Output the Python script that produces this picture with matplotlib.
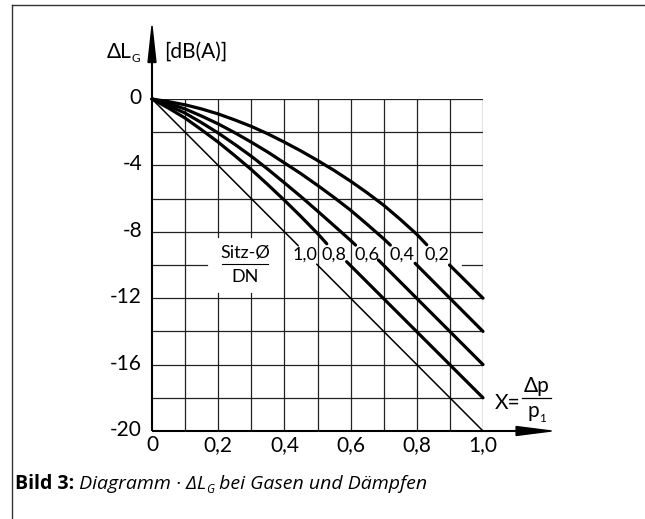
import matplotlib.pyplot as plt
from matplotlib.patches import Polygon
from matplotlib.lines import Line2D

W, H = 645, 519

# curve data: ratio Sitz-Ø/DN -> (X, dL) points
# each curve is split by the label row: upper part / lower part
ratios = ["1,0", "0,8", "0,6", "0,4", "0,2"]

x_10_up = [0.0, 0.442]
y_10_up = [0.0, -8.84]
x_10_lo = [0.4975, 1.0]
y_10_lo = [-9.95, -20.0]

x_08_up = [0.0, 0.05, 0.1, 0.15, 0.2, 0.25, 0.3, 0.35, 0.4, 0.45, 0.5, 0.528]
y_08_up = [0.0, -0.55, -1.15, -1.86, -2.6, -3.41, -4.25, -5.16, -6.1, -7.08, -8.1, -8.72]
x_08_lo = [0.588, 1.0]
y_08_lo = [-9.8, -18.0]

x_06_up = [0.0, 0.05, 0.1, 0.15, 0.2, 0.25, 0.3, 0.35, 0.4, 0.45, 0.5, 0.55, 0.6, 0.615]
y_06_up = [0.0, -0.4, -0.85, -1.43, -2.05, -2.73, -3.45, -4.23, -5.05, -5.88, -6.75, -7.63, -8.52, -8.8]
x_06_lo = [0.684, 1.0]
y_06_lo = [-9.7, -16.0]

x_04_up = [0.0, 0.05, 0.1, 0.15, 0.2, 0.25, 0.3, 0.35, 0.4, 0.45, 0.5, 0.55, 0.6, 0.65, 0.7, 0.72]
y_04_up = [0.0, -0.27, -0.6, -1.03, -1.5, -2.03, -2.6, -3.2, -3.85, -4.5, -5.2, -5.93, -6.7, -7.55, -8.42, -8.8]
x_04_lo = [0.795, 1.0]
y_04_lo = [-9.9, -14.0]

x_02_up = [0.0, 0.05, 0.1, 0.15, 0.2, 0.25, 0.3, 0.35, 0.4, 0.45, 0.5, 0.55, 0.6, 0.65, 0.7, 0.75, 0.8, 0.83]
y_02_up = [0.0, -0.16, -0.35, -0.6, -0.9, -1.26, -1.65, -2.1, -2.6, -3.13, -3.7, -4.3,
           -4.95, -5.65, -6.4, -7.25, -8.15, -8.78]
x_02_lo = [0.899, 1.0]
y_02_lo = [-10.0, -12.0]

label_x = [0.462, 0.55, 0.65, 0.756, 0.862]
label_y = -9.38

x_ticks = [0, 0.2, 0.4, 0.6, 0.8, 1.0]
x_ticklabels = ["0", "0,2", "0,4", "0,6", "0,8", "1,0"]
y_ticks = [0, -4, -8, -12, -16, -20]
y_ticklabels = ["0", "-4", "-8", "-12", "-16", "-20"]

CHART_FONT = "Lato"
CAP_FONT = "Open Sans"
TFS = 15


def fx(px):
    return px / W


def fy(py):
    return 1 - py / H


fig = plt.figure(figsize=(W / 100, H / 100), dpi=100)
ax = fig.add_axes([fx(152), fy(431), 331 / W, 332 / H])
ax.set_xlim(0, 1)
ax.set_ylim(-20, 0)
ax.axis("off")

# grid (with the gaps behind the label row)
gc = "#222222"
glw = 0.9
for xv in [i / 10 for i in range(1, 11)]:
    if xv in (0.2, 0.3):
        ax.plot([xv, xv], [0, -8.3], color=gc, lw=glw)
        ax.plot([xv, xv], [-11.7, -20], color=gc, lw=glw)
    else:
        ax.plot([xv, xv], [0, -20], color=gc, lw=glw)
for yv in range(0, -20, -2):
    if yv == -10:
        ax.plot([0, 0.165], [yv, yv], color=gc, lw=glw)
        ax.plot([0.936, 1.0], [yv, yv], color=gc, lw=glw)
    else:
        ax.plot([0, 1], [yv, yv], color=gc, lw=glw)

# axes with arrows
ax.plot([0, 0], [-20, 3.0], color="black", lw=1.5, clip_on=False, solid_capstyle="butt")
ax.plot([0, 1.12], [-20, -20], color="black", lw=1.5, clip_on=False, solid_capstyle="butt")
ax.add_patch(Polygon([[-0.012, 2.2], [0.012, 2.2], [0, 4.4]], closed=True,
                     color="black", clip_on=False))
ax.add_patch(Polygon([[1.10, -20.27], [1.10, -19.73], [1.207, -20]], closed=True,
                     color="black", clip_on=False))

# curves
curves = [
    (x_10_up, y_10_up, x_10_lo, y_10_lo, 1.1),
    (x_08_up, y_08_up, x_08_lo, y_08_lo, 2.3),
    (x_06_up, y_06_up, x_06_lo, y_06_lo, 2.3),
    (x_04_up, y_04_up, x_04_lo, y_04_lo, 2.3),
    (x_02_up, y_02_up, x_02_lo, y_02_lo, 2.3),
]
for xu, yu, xl, yl, lw in curves:
    ax.plot(xu, yu, color="black", lw=lw, solid_capstyle="round", solid_joinstyle="round", clip_on=False)
    ax.plot(xl, yl, color="black", lw=lw, solid_capstyle="round", solid_joinstyle="round", clip_on=False)

for lx, lab in zip(label_x, ratios):
    ax.text(lx, label_y, lab, ha="center", va="center", fontsize=13, family=CHART_FONT)

# Sitz-Ø / DN
ax.text(0.281, -9.25, "Sitz-Ø", ha="center", va="center", fontsize=13, family=CHART_FONT)
ax.plot([0.212, 0.35], [-9.95, -9.95], color="black", lw=0.8)
ax.text(0.281, -10.75, "DN", ha="center", va="center", fontsize=13, family=CHART_FONT)

# tick labels
for xv, lab in zip(x_ticks, x_ticklabels):
    fig.text(fx(152 + 331 * xv), fy(445), lab, ha="center", va="center",
             fontsize=TFS, family=CHART_FONT)
for yv, lab in zip(y_ticks, y_ticklabels):
    fig.text(fx(142), fy(98 - 16.6 * yv), lab, ha="right", va="center",
             fontsize=TFS, family=CHART_FONT)

# axis labels
fig.text(fx(132), fy(52), "ΔL", ha="right", va="center", fontsize=TFS, family=CHART_FONT)
fig.text(fx(132), fy(59), "G", ha="left", va="center", fontsize=8.5, family=CHART_FONT)
fig.text(fx(164), fy(52), "[dB(A)]", ha="left", va="center", fontsize=TFS, family=CHART_FONT)

fig.text(fx(495), fy(403), "X=", ha="left", va="center", fontsize=TFS, family=CHART_FONT)
fig.text(fx(537), fy(386), "Δp", ha="center", va="center", fontsize=TFS, family=CHART_FONT)
fig.add_artist(Line2D([fx(522), fx(551)], [fy(398), fy(398)], color="black", lw=0.9))
fig.text(fx(533), fy(411), "p", ha="center", va="center", fontsize=TFS, family=CHART_FONT)
fig.text(fx(539), fy(418), "1", ha="left", va="center", fontsize=8.5, family=CHART_FONT)

# frame lines of the picture
fig.add_artist(Line2D([fx(12), fx(12)], [fy(5), 0], color="#333333", lw=1.0))
fig.add_artist(Line2D([fx(12), 1], [fy(5), fy(5)], color="#333333", lw=1.0))

# caption with mixed styles
fig.canvas.draw()
r = fig.canvas.get_renderer()
parts = [
    ("Bild 3:", dict(weight="bold", fontsize=14), 0),
    (" Diagramm · ΔL", dict(style="italic", fontsize=14), 0),
    ("G", dict(style="italic", fontsize=8.5), -4),
    (" bei Gasen und Dämpfen", dict(style="italic", fontsize=14), 0),
]
xpos = 15
for txt, kw, dy in parts:
    t = fig.text(fx(xpos), fy(489 - dy), txt, ha="left", va="baseline", family=CAP_FONT, **kw)
    xpos = t.get_window_extent(renderer=r).x1

fig.savefig("out.png", dpi=100)
